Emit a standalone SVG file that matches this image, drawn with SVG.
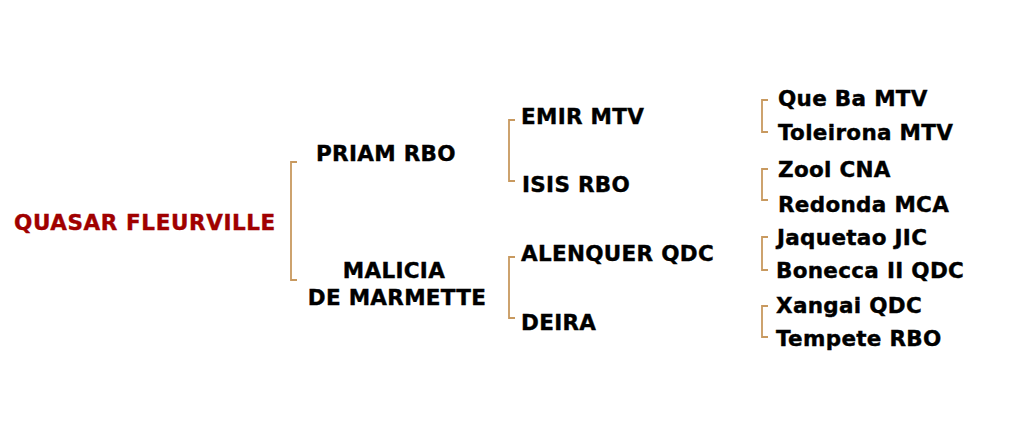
<svg xmlns="http://www.w3.org/2000/svg" width="1024" height="435" viewBox="0 0 1024 435">
<style>
text{font-family:"DejaVu Sans",Verdana,sans-serif;font-weight:bold;font-size:21.5px;letter-spacing:0.3px;fill:#000;stroke:#000;stroke-width:0.4px}
.root{fill:#a00000;stroke:#a00000;letter-spacing:0.6px}
.br{fill:none;stroke:#c8995f;stroke-width:1.8}
</style>
<rect width="1024" height="435" fill="#fff"/>
<g id="connectors">
<path class="br" d="M297,162 H291 V280 H297"/>
<path class="br" d="M515,120 H509 V181 H515"/>
<path class="br" d="M515,257 H509 V318 H515"/>
<path class="br" d="M768,100 H762 V132 H768"/>
<path class="br" d="M768,169 H762 V200 H768"/>
<path class="br" d="M768,237 H762 V270 H768"/>
<path class="br" d="M768,306 H762 V337 H768"/>
</g>
<g id="n-quasar"><text class="root" x="14" y="230">QUASAR FLEURVILLE</text></g>
<g id="n-priam"><text x="316" y="161">PRIAM RBO</text></g>
<g id="n-malicia"><text x="394" y="278" text-anchor="middle">MALICIA</text><text x="397" y="305" text-anchor="middle">DE MARMETTE</text></g>
<g id="n-emir"><text x="521" y="124">EMIR MTV</text></g>
<g id="n-isis"><text x="522" y="192">ISIS RBO</text></g>
<g id="n-alenquer"><text x="521" y="261">ALENQUER QDC</text></g>
<g id="n-deira"><text x="521" y="330">DEIRA</text></g>
<g id="n-queba"><text x="778" y="106">Que Ba MTV</text></g>
<g id="n-toleirona"><text x="778" y="140">Toleirona MTV</text></g>
<g id="n-zool"><text x="778" y="177">Zool CNA</text></g>
<g id="n-redonda"><text x="778" y="212">Redonda MCA</text></g>
<g id="n-jaquetao"><text x="777" y="245">Jaquetao JIC</text></g>
<g id="n-bonecca"><text x="776" y="278">Bonecca II QDC</text></g>
<g id="n-xangai"><text x="776" y="313">Xangai QDC</text></g>
<g id="n-tempete"><text x="776" y="346">Tempete RBO</text></g>
</svg>
